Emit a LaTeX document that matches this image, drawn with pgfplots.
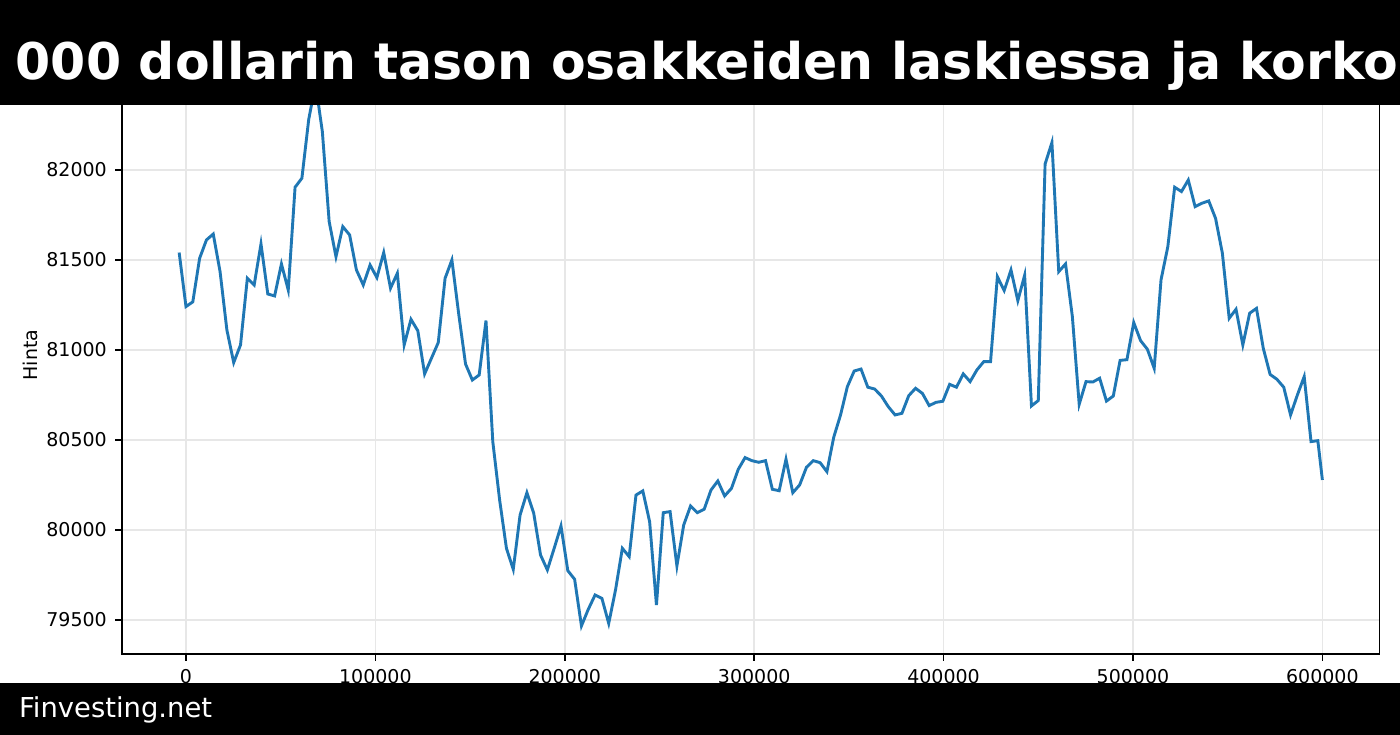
\documentclass[border=0pt]{standalone}
\usepackage{pgfplots}
\pgfplotsset{compat=1.18}
\usepackage{fontspec}
\setmainfont{DejaVu Sans}
\definecolor{mplblue}{HTML}{1F77B4}
\definecolor{gridc}{HTML}{E7E7E7}
\begin{document}
\begin{tikzpicture}
\useasboundingbox (0,0) rectangle (1400bp,735bp);
\fill[white] (0,0) rectangle (1400bp,735bp);
\begin{axis}[
  at={(122bp,81bp)}, anchor=south west,
  width=1257.5bp, height=598bp, scale only axis,
  xmin=-33780, xmax=630180, ymin=79311, ymax=82633,
  xtick={0,100000,200000,300000,400000,500000,600000},
  ytick={79500,80000,80500,81000,81500,82000},
  scaled ticks=false,
  xtick pos=left, ytick pos=left,
  tick align=outside, major tick length=6.7bp,
  every tick/.style={black, line width=1.5bp},
  axis line style={black, line width=1.5bp},
  grid=major, major grid style={gridc, line width=1.5bp},
  ticklabel style={font=\fontsize{19bp}{19bp}\selectfont},
  yticklabel style={xshift=-5bp},
  xticklabel style={yshift=-5bp},
  /pgf/number format/fixed, /pgf/number format/1000 sep={},
  /pgf/number format/assume math mode=true,
  ylabel={Hinta},
  every axis y label/.style={at={(axis description cs:0,0.5)}, xshift=-91.5bp, anchor=center, rotate=90, font=\fontsize{19bp}{19bp}\selectfont},
]
\addplot[mplblue, line width=2.9bp] coordinates {
(-3600,81541) (0,81241) (3600,81267) (7200,81509) (10800,81611) (14400,81644) (18000,81435) (21600,81111) (25200,80930) (28800,81028)
(32400,81398) (36000,81361) (39600,81589) (43200,81311) (46800,81300) (50400,81478) (54000,81333) (57600,81904) (61200,81954) (64800,82280)
(68400,82480) (72000,82213) (75600,81713) (79200,81518) (82800,81685) (86400,81639) (90000,81444) (93600,81361) (97200,81472) (100800,81402)
(104400,81541) (108000,81343) (111600,81426) (115200,81028) (118800,81170) (122400,81107) (126000,80867) (129600,80954) (133200,81041) (136800,81398)
(140400,81500) (144000,81200) (147600,80922) (151200,80833) (154800,80861) (158400,81163) (162000,80490) (165600,80167) (169200,79898) (172800,79781)
(176400,80083) (180000,80207) (183600,80093) (187200,79861) (190800,79778) (194400,79898) (198000,80022) (201600,79774) (205200,79726) (208800,79467)
(212400,79559) (216000,79639) (219600,79620) (223200,79481) (226800,79667) (230400,79898) (234000,79852) (237600,80194) (241200,80217) (244800,80046)
(248400,79583) (252000,80096) (255600,80102) (259200,79800) (262800,80028) (266400,80133) (270000,80096) (273600,80115) (277200,80222) (280800,80272)
(284400,80189) (288000,80231) (291600,80337) (295200,80402) (298800,80385) (302400,80376) (306000,80385) (309600,80226) (313200,80218) (316800,80393)
(320400,80207) (324000,80250) (327600,80348) (331200,80385) (334800,80374) (338400,80324) (342000,80515) (345600,80639) (349200,80796) (352800,80883)
(356400,80894) (360000,80793) (363600,80783) (367200,80744) (370800,80685) (374400,80639) (378000,80648) (381600,80746) (385200,80787) (388800,80759)
(392400,80691) (396000,80709) (399600,80715) (403200,80809) (406800,80793) (410400,80867) (414000,80824) (417600,80889) (421200,80935) (424800,80935)
(428400,81407) (432000,81330) (435600,81444) (439200,81274) (442800,81415) (446400,80689) (450000,80719) (453600,82033) (457200,82152) (460800,81435)
(464400,81478) (468000,81185) (471600,80698) (475200,80824) (478800,80822) (482400,80843) (486000,80716) (489600,80744) (493200,80942) (496800,80946)
(500400,81152) (504000,81052) (507600,81004) (511200,80898) (514800,81389) (518400,81574) (522000,81904) (525600,81880) (529200,81944) (532800,81796)
(536400,81815) (540000,81828) (543600,81731) (547200,81537) (550800,81176) (554400,81226) (558000,81028) (561600,81204) (565200,81231) (568800,81009)
(572400,80864) (576000,80837) (579600,80793) (583200,80639) (586800,80750) (590400,80852) (594000,80491) (597600,80496) (600000,80278)
};
\end{axis}
\fill[black] (0,630bp) rectangle (1400bp,735bp);
\begin{scope}
\clip (0,630bp) rectangle (1400bp,735bp);
\node[anchor=base west, inner sep=0pt, text=white, font=\fontsize{50.55bp}{50.55bp}\selectfont\bfseries] at (15.5bp,655bp) {000 dollarin tason osakkeiden laskiessa ja korko};
\end{scope}
\fill[black] (0,0) rectangle (1400bp,52bp);
\node[anchor=base west, inner sep=0pt, text=white, font=\fontsize{27.4bp}{27.4bp}\selectfont] at (19bp,18bp) {Finvesting.net};
\end{tikzpicture}
\end{document}
